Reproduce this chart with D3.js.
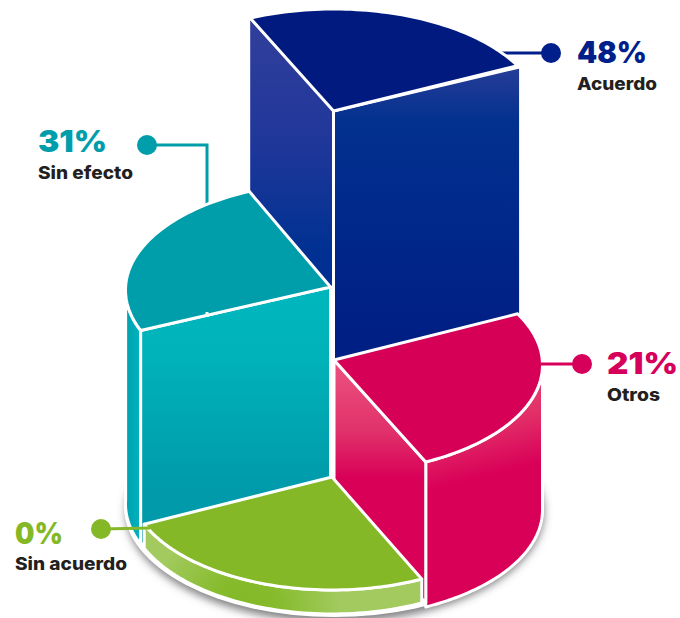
<!DOCTYPE html>
<html lang="es">
<head>
<meta charset="utf-8">
<title>Acuerdo</title>
<script src="https://cdn.jsdelivr.net/npm/d3@7/dist/d3.min.js"></script>
<style>
  html, body { margin: 0; padding: 0; background: #fff; }
  svg { display: block; }
  text { font-family: Inter, "Open Sans", sans-serif; }
</style>
</head>
<body>
<svg id="chart" width="680" height="618"></svg>
<script>
// Respuestas y porcentajes
const categories = ["Acuerdo", "Sin efecto", "Otros", "Sin acuerdo"];
const percents = [48, 31, 21, 0];
// Each wedge's arc on the rim, in degrees clockwise from twelve o'clock
const arcStart = [336.3, 248, 61.7, 153.9];
const arcEnd = [421.7, 336, 153.9, 247];

const svg = d3.select("#chart");
const defs = svg.append("defs");

// The column height of a wedge depends on its percentage
const height = d3.scaleLinear().domain([0, 21, 31, 48]).range([24, 141, 214, 390]);
const rad = d3.scaleLinear().domain([0, 360]).range([0, 2 * Math.PI]);

const baseY = 501, ry = 108;
// Where each wedge's point sits, and the ellipse its rim follows
const apexX = [333.5, 330.5, 334, 332];
const rimCx = [334, 334, 334, 332];
const rimRx = [208.5, 208.5, 208.5, 204];
const rimDrop = [6, 3, 5, 5];
const footDrop = 4;
const WHITE = "#fff";

function gradient(id, x1, y1, x2, y2, stops) {
  const g = defs.append("linearGradient").attr("id", id)
    .attr("gradientUnits", "userSpaceOnUse")
    .attr("x1", x1).attr("y1", y1).attr("x2", x2).attr("y2", y2);
  stops.forEach(([o, c]) => g.append("stop").attr("offset", o).attr("stop-color", c));
  return `url(#${id})`;
}

const blueFront = gradient("blueFront", 0, 62, 0, 330, [[0, "#2a3e98"], [0.22, "#03318f"], [0.6, "#00288b"], [1, "#001f85"]]);
const blueSide = gradient("blueSide", 0, 20, 0, 290, [[0, "#313f9b"], [0.45, "#20379a"], [0.85, "#003192"], [1, "#002e92"]]);
const tealFront = gradient("tealFront", 0, 300, 0, 490, [[0, "#00b6bd"], [0.3, "#00b2ba"], [1, "#009aab"]]);
const tealSide = gradient("tealSide", 127, 0, 142, 0, [[0, "#00a4b1"], [1, "#00b4bd"]]);
const pinkSide = gradient("pinkSide", 0, 375, 0, 478, [[0, "#ea4c7d"], [0.55, "#e0316a"], [1, "#d90058"]]);
const pinkOuter = gradient("pinkOuter", 470, 395, 490, 475, [[0, "#e5406f"], [0.4, "#e22f68"], [1, "#d90058"]]);

// Lime band darkens around the lower left of the base
const limeBand = defs.append("radialGradient").attr("id", "limeBand")
  .attr("gradientUnits", "userSpaceOnUse").attr("cx", 245).attr("cy", 612).attr("r", 95);
limeBand.append("stop").attr("offset", 0).attr("stop-color", "#82b926");
limeBand.append("stop").attr("offset", 0.35).attr("stop-color", "#86bb2c");
limeBand.append("stop").attr("offset", 1).attr("stop-color", "#a2ca5e");

const blur = defs.append("filter").attr("id", "baseShadow")
  .attr("x", "-10%").attr("y", "-10%").attr("width", "120%").attr("height", "125%");
blur.append("feGaussianBlur").attr("stdDeviation", 4);

const line = d3.line();
function wedge(i) {
  const h = height(percents[i]);
  const ax = apexX[i], ay = baseY - h;
  // Point on the rim ellipse, with an optional downward shift to the column's foot
  const rimPoint = (deg, dy = 0) => [
    rimCx[i] + rimRx[i] * Math.sin(rad(deg)),
    ay + rimDrop[i] + dy - ry * Math.cos(rad(deg))
  ];
  const rimPoints = (from, to, dy = 0) =>
    d3.range(0, 61).map(k => rimPoint(from + (to - from) * k / 60, dy));
  return { ax, ay, h, a0: arcStart[i], a1: arcEnd[i], rimPoint, rimPoints };
}

const layers = svg.append("g");

function paint(points, fill, stroke = WHITE, sw = 3) {
  layers.append("path").attr("d", line(points) + "Z")
    .attr("fill", fill).attr("stroke", stroke).attr("stroke-width", sw)
    .attr("stroke-linejoin", "round");
}

// Soft shadow under the base, then its white outline
layers.append("ellipse").attr("cx", 335).attr("cy", baseY + 11)
  .attr("rx", 209).attr("ry", ry + 2)
  .attr("fill", "#5f5f63").attr("fill-opacity", 0.8).attr("filter", "url(#baseShadow)");
layers.append("ellipse").attr("cx", 334).attr("cy", baseY + 6)
  .attr("rx", 210).attr("ry", ry + 2).attr("fill", WHITE);

// Acuerdo: tallest column, at the back
{
  const { ax, ay, h, a0, a1, rimPoint, rimPoints } = wedge(0);
  const s = rimPoint(a0), e = rimPoint(a1);
  paint([[s[0], s[1] + 2], [ax, ay], [ax, ay + h], [s[0], s[1] + h]], blueSide, "none", 0);
  paint([[ax, ay], [e[0] + 3, e[1] + 1], [e[0] + 3, e[1] + h], [ax, ay + h]], blueFront);
  paint([[ax, ay], ...rimPoints(a0, a1)], "#001a80");
}

// Sin efecto
{
  const { ax, ay, h, a0, a1, rimPoint, rimPoints } = wedge(1);
  const s = rimPoint(a0);
  paint([...rimPoints(a0, 272), ...rimPoints(272, a0, h)], tealSide);
  paint([s, [ax, ay], [ax, ay + h], [s[0], s[1] + h]], tealFront);
  paint([[ax, ay], ...rimPoints(a0, a1)], "#009eab");
}

// Otros
{
  const { ax, ay, h, a0, a1, rimPoint, rimPoints } = wedge(2);
  const e = rimPoint(a1);
  paint([...rimPoints(90, a1), ...rimPoints(a1, 90, h + footDrop)], pinkOuter);
  paint([[ax, ay], e, [e[0], e[1] + h], [ax, ay + h]], pinkSide);
  paint([[ax, ay], ...rimPoints(a0, a1)], "#d70057");
}

// Sin acuerdo: only the thin base slab
{
  const { ax, ay, h, a0, a1, rimPoints } = wedge(3);
  paint([...rimPoints(a0, a1), ...rimPoints(a1, a0, h)], "url(#limeBand)");
  paint([[ax, ay], ...rimPoints(a0, a1)], "#84b827");
}

// Callouts
const leaderColor = ["#001f8a", "#009dab", "#d6005a", "#84b827"];
const dotAt = [[551, 53], [147, 145], [582, 364], [101, 529]];
const leaderPath = [
  [[551, 53], [500, 53]],
  [[147, 145], [207, 145], [207, 209]],
  [[582, 364], [541, 364]],
  [[101, 529], [150, 528]]
];
const numberPos = [[577, 63, 70], [38, 152, 69], [607, 374, 71], [15, 544, 48]];
const labelPos = [[577, 90, 80], [38, 179, 95], [607, 401, 53], [15, 570, 112]];

const callouts = svg.append("g");
categories.forEach((cat, i) => {
  // Top two leaders tuck behind their wedges, so they go under the stacked layers
  const layer = i < 2 ? layers.insert("g", ":first-child") : callouts;
  layer.append("path").attr("d", line(leaderPath[i])).attr("fill", "none")
    .attr("stroke", leaderColor[i]).attr("stroke-width", 3);
  callouts.append("circle").attr("cx", dotAt[i][0]).attr("cy", dotAt[i][1])
    .attr("r", 10).attr("fill", leaderColor[i]);
  callouts.append("text").text(`${percents[i]}%`)
    .attr("x", numberPos[i][0]).attr("y", numberPos[i][1])
    .attr("font-size", 30).attr("font-weight", 900).attr("fill", leaderColor[i])
    .attr("textLength", numberPos[i][2]).attr("lengthAdjust", "spacingAndGlyphs");
  callouts.append("text").text(cat)
    .attr("x", labelPos[i][0]).attr("y", labelPos[i][1])
    .attr("font-size", 17.5).attr("font-weight", 800).attr("fill", "#231f20")
    .attr("textLength", labelPos[i][2]).attr("lengthAdjust", "spacingAndGlyphs");
});

// Small nick where the teal leader would meet the front edge
callouts.append("path").attr("d", line([[207, 312], [207, 317]]))
  .attr("stroke", WHITE).attr("stroke-width", 3);
</script>
</body>
</html>
